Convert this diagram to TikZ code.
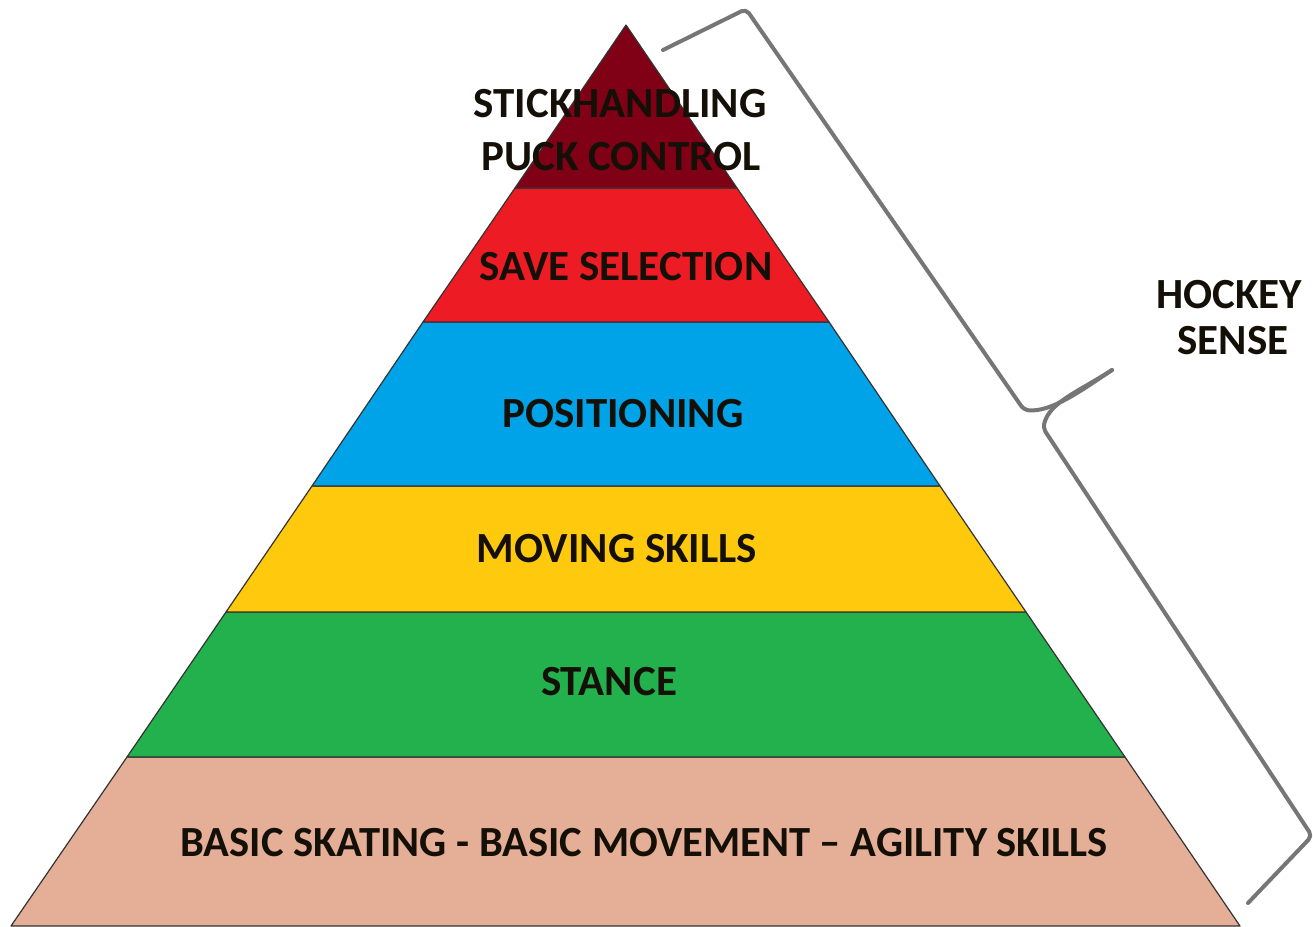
\documentclass[tikz,border=0pt]{standalone}
\usepackage{fontspec}
\setmainfont{Carlito}
\definecolor{cDark}{RGB}{128,0,22}
\definecolor{cRed}{RGB}{237,28,36}
\definecolor{cBlue}{RGB}{0,162,232}
\definecolor{cYellow}{RGB}{255,201,14}
\definecolor{cGreen}{RGB}{34,177,76}
\definecolor{cSalmon}{RGB}{229,174,150}
\definecolor{cText}{RGB}{20,16,8}
\definecolor{cBrace}{RGB}{118,118,118}
\begin{document}
\begin{tikzpicture}[x=1pt,y=-1pt,
  layer/.style={draw=black!80,line width=1.2pt,line join=round},
  lbl/.style={font=\fontsize{43}{48}\selectfont\bfseries,text=cText,inner sep=0pt,align=center},
  brace/.style={draw=cBrace,line width=4pt,line join=round,line cap=round,rounded corners=5pt}]
\useasboundingbox (0,0) rectangle (1313,926);
% layers
\path[layer,fill=cSalmon] (127,757) -- (1125,757) -- (1240,926) -- (11,926) -- cycle;
\path[layer,fill=cGreen] (226,612) -- (1026,612) -- (1125,757) -- (127,757) -- cycle;
\path[layer,fill=cYellow] (312,486) -- (940,486) -- (1026,612) -- (226,612) -- cycle;
\path[layer,fill=cBlue] (423,322) -- (829,322) -- (940,486) -- (312,486) -- cycle;
\path[layer,fill=cRed] (515,188) -- (737,188) -- (829,322) -- (423,322) -- cycle;
\path[layer,fill=cDark] (626,25) -- (737,188) -- (515,188) -- cycle;
% labels
\node[lbl,anchor=base] (l1) at (620,117) {STICKHANDLING};
\node[lbl,anchor=base] (l1b) at (621,170) {PUCK CONTROL};
\node[lbl,anchor=base] (l2) at (626,280) {SAVE SELECTION};
\node[lbl,anchor=base] (l3) at (623,427) {POSITIONING};
\node[lbl,anchor=base] (l4) at (617,562) {MOVING SKILLS};
\node[lbl,anchor=base] (l5) at (609,695) {STANCE};
\node[lbl,anchor=base,xscale=0.99] (l6) at (644,856) {BASIC SKATING - BASIC MOVEMENT -- AGILITY SKILLS};
\node[lbl,anchor=base] (hs1) at (1229,308) {HOCKEY};
\node[lbl,anchor=base] (hs2) at (1233,354) {SENSE};
% brace
\coordinate (b0) at (663,50);
\coordinate (b1) at (746,9);
\coordinate (b2) at (1024,410);
\coordinate (tip) at (1112,370);
\coordinate (b3) at (1043,428);
\coordinate (b4) at (1312,836);
\coordinate (b5) at (1248,903);
\draw[brace] (b0) -- (b1) -- (b2) .. controls (1052,412) and (1082,390) .. (tip);
\draw[brace] (tip) .. controls (1078,392) and (1050,402) .. (b3) -- (b4) -- (b5);
\end{tikzpicture}
\end{document}
